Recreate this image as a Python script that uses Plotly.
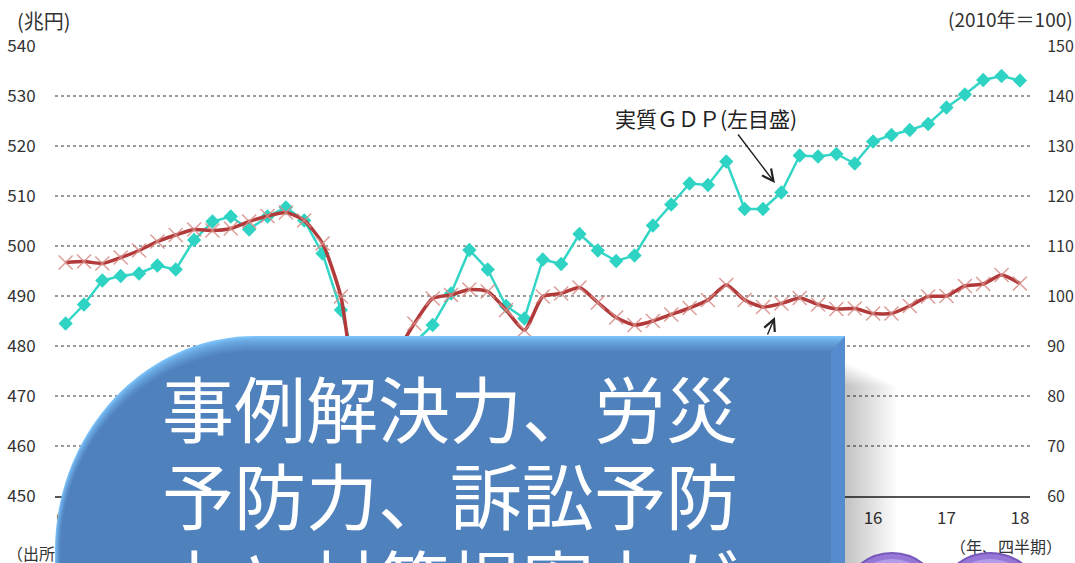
import plotly.graph_objects as go

# ---- data -------------------------------------------------------------
quarters = [
    "2005Q1", "2005Q2", "2005Q3", "2005Q4", "2006Q1", "2006Q2", "2006Q3", "2006Q4",
    "2007Q1", "2007Q2", "2007Q3", "2007Q4", "2008Q1", "2008Q2", "2008Q3", "2008Q4",
    "2009Q1", "2009Q2", "2009Q3", "2009Q4", "2010Q1", "2010Q2", "2010Q3", "2010Q4",
    "2011Q1", "2011Q2", "2011Q3", "2011Q4", "2012Q1", "2012Q2", "2012Q3", "2012Q4",
    "2013Q1", "2013Q2", "2013Q3", "2013Q4", "2014Q1", "2014Q2", "2014Q3", "2014Q4",
    "2015Q1", "2015Q2", "2015Q3", "2015Q4", "2016Q1", "2016Q2", "2016Q3", "2016Q4",
    "2017Q1", "2017Q2", "2017Q3", "2017Q4", "2018Q1",
]

# real GDP, trillion yen (left scale)
real_gdp = [
    484.5, 488.3, 493.1, 494.0, 494.5, 496.1, 495.3, 501.2,
    504.9, 505.9, 503.3, 505.9, 507.7, 505.1, 498.5, 487.2,
    474.0, 477.5, 477.0, 480.5, 484.2, 490.5, 499.2, 495.3,
    488.0, 485.5, 497.3, 496.4, 502.4, 499.1, 497.0, 498.1,
    504.1, 508.3, 512.5, 512.2, 516.9, 507.4, 507.4, 510.7,
    518.1, 517.9, 518.4, 516.5, 520.9, 522.2, 523.2, 524.4,
    527.7, 530.3, 533.2, 534.0, 533.1,
]

# production index, 2010 = 100 (right scale)
production = [
    106.7, 106.9, 106.5, 107.7, 109.1, 110.9, 112.2, 113.3,
    113.1, 113.5, 114.9, 116.0, 116.7, 115.1, 110.5, 99.9,
    79.0, 83.5, 88.5, 94.5, 99.5, 100.2, 101.3, 100.9,
    97.2, 93.2, 99.9, 100.5, 101.7, 98.7, 95.7, 94.2,
    95.0, 96.3, 97.6, 99.2, 102.2, 99.2, 97.8, 98.5,
    99.6, 98.3, 97.4, 97.5, 96.5, 96.5, 98.0, 99.9,
    100.0, 102.0, 102.4, 104.2, 102.5,
]

year_tick_pos = ["2005Q1", "2006Q1", "2007Q1", "2008Q1", "2009Q1", "2010Q1", "2011Q1",
                 "2012Q1", "2013Q1", "2014Q1", "2015Q1", "2016Q1", "2017Q1", "2018Q1"]
year_tick_text = ["05", "06", "07", "08", "09", "10", "11",
                  "12", "13", "14", "15", "16", "17", "18"]

left_ticks = [450, 460, 470, 480, 490, 500, 510, 520, 530, 540]
right_ticks = [60, 70, 80, 90, 100, 110, 120, 130, 140, 150]

headline = ["事例解決力、労災", "予防力、訴訟予防", "力と対策提案力が"]

# ---- page geometry (pixels) -------------------------------------------
W, H = 1075, 563
PL, PR, PT, PB = 55, 1030, 46, 496
X_RANGE = [-0.58, 52.55]


def fx(x):
    return x / W


def fy(y):
    return 1 - y / H


NUM_FONT = "Liberation Sans Narrow, Arial Narrow, Noto Sans CJK JP, sans-serif"
JP_FONT = "Noto Sans CJK JP, sans-serif"
INK = "#333333"

fig = go.Figure()

fig.add_trace(go.Scatter(
    x=quarters, y=real_gdp, name="実質ＧＤＰ",
    mode="lines+markers",
    line=dict(color="#33D6C6", width=2.5),
    marker=dict(symbol="diamond", size=11, color="#2ED3C3"),
    xaxis="x", yaxis="y",
))

fig.add_trace(go.Scatter(
    x=quarters, y=production, name="生産指数",
    mode="lines+markers",
    line=dict(color="#B23A3A", width=3.5, shape="spline", smoothing=0.6),
    marker=dict(symbol="x-thin", size=14,
                line=dict(color="rgba(215,140,135,0.85)", width=1.5)),
    xaxis="x", yaxis="y2",
))

# footnote texts on a full-page helper subplot (they sit under the panel / badges)
fig.add_trace(go.Scatter(
    x=[7], y=[556], mode="text", xaxis="x3", yaxis="y3",
    text=["（出所）内閣府「国民経済計算」、経済産業省「鉱工業指数」"],
    textposition="middle right",
    textfont=dict(family=JP_FONT, size=16, color=INK),
    cliponaxis=False, showlegend=False, hoverinfo="skip",
))
fig.add_trace(go.Scatter(
    x=[1006], y=[549], mode="text", xaxis="x3", yaxis="y3",
    text=["（年、四半期）"],
    textposition="middle center",
    textfont=dict(family=JP_FONT, size=16, color=INK),
    cliponaxis=False, showlegend=False, hoverinfo="skip",
))

# ---- overlay panel ------------------------------------------------------
shapes = []

# soft drop shadow to the right of the panel
for k in range(22):
    shapes.append(dict(
        type="rect", xref="paper", yref="paper", layer="above",
        x0=fx(700), x1=fx(842 + 2.6 * k),
        y0=fy(640), y1=fy(360 + 1.2 * k),
        fillcolor="rgba(0,0,0,0.013)", line=dict(width=0),
    ))


def panel_path(left, top, right, bottom, rx, ry):
    k = 0.5523
    cx, cy = left + rx, top + ry
    return (
        f"M{fx(left)},{fy(bottom)} "
        f"L{fx(left)},{fy(cy)} "
        f"C{fx(left)},{fy(cy - k * ry)} {fx(cx - k * rx)},{fy(top)} {fx(cx)},{fy(top)} "
        f"L{fx(right)},{fy(top)} "
        f"L{fx(right)},{fy(bottom)} Z"
    )


light = (125, 195, 250)
base = (79, 129, 189)
n_layers = 10
for i in range(n_layers):
    t = (i / (n_layers - 1)) ** 0.7
    col = tuple(round(light[j] * (1 - t) + base[j] * t) for j in range(3))
    shapes.append(dict(
        type="path", xref="paper", yref="paper", layer="above",
        path=panel_path(55 + 0.6 * i, 336 + 1.7 * i, 845, 640,
                        200 - 0.6 * i, 215 - 1.7 * i),
        fillcolor=f"rgb{col}", line=dict(width=0),
    ))

# right-hand bevel of the panel
shapes.append(dict(
    type="path", xref="paper", yref="paper", layer="above",
    path=(f"M{fx(845)},{fy(336)} L{fx(845)},{fy(640)} "
          f"L{fx(831)},{fy(640)} L{fx(831)},{fy(352)} Z"),
    fillcolor="rgb(86,139,206)", line=dict(width=0),
))

# purple badges at the bottom right
for cx, cy, r in [(892, 603, 50), (990, 607, 54)]:
    shapes.append(dict(
        type="circle", xref="paper", yref="paper", layer="above",
        x0=fx(cx - r), x1=fx(cx + r), y0=fy(cy + r), y1=fy(cy - r),
        fillcolor="rgb(150,118,214)", line=dict(color="rgb(118,88,186)", width=2),
    ))
    ri = r - 6
    shapes.append(dict(
        type="circle", xref="paper", yref="paper", layer="above",
        x0=fx(cx - ri), x1=fx(cx + ri), y0=fy(cy + ri), y1=fy(cy - ri),
        fillcolor="rgb(178,156,234)", line=dict(width=0),
    ))

# page-pixel annotations live on the helper axes so they never push the margins
annotations = [
    dict(text="(兆円)", xref="x3", yref="y3", x=15, y=20,
         xanchor="left", yanchor="middle", showarrow=False,
         font=dict(family=JP_FONT, size=20, color=INK)),
    dict(text="(2010年＝100)", xref="x3", yref="y3", x=1075, y=18,
         xanchor="right", yanchor="middle", showarrow=False,
         font=dict(family=JP_FONT, size=19, color=INK)),
    dict(text="実質ＧＤＰ(左目盛)", xref="x3", yref="y3", x=706, y=118,
         xanchor="center", yanchor="middle", showarrow=False,
         font=dict(family=JP_FONT, size=21, color="#222222")),
    # arrow to the GDP line
    dict(text="", x=38.65, y=512.6, xref="x", yref="y",
         ax=-38, ay=-50, axref="pixel", ayref="pixel",
         showarrow=True, arrowhead=5, arrowsize=1.6, arrowwidth=1.4,
         arrowcolor="#222222"),
    # arrow to the production line
    dict(text="", x=38.65, y=485.8, xref="x", yref="y",
         ax=-8, ay=19, axref="pixel", ayref="pixel",
         showarrow=True, arrowhead=5, arrowsize=1.6, arrowwidth=1.4,
         arrowcolor="#222222"),
]

# headline on the panel, one annotation per line for tight leading
for n, line_text in enumerate(headline):
    annotations.append(dict(
        text=line_text, xref="x3", yref="y3",
        x=160, y=351 + 87 * n, xanchor="left", yanchor="top", align="left",
        showarrow=False,
        font=dict(family=JP_FONT, size=72, color="white"),
    ))

fig.update_layout(
    width=W, height=H,
    margin=dict(l=0, r=0, t=0, b=0),
    paper_bgcolor="white", plot_bgcolor="rgba(0,0,0,0)",
    showlegend=False,
    xaxis=dict(
        domain=[PL / W, PR / W], anchor="y",
        type="category", categoryorder="array", categoryarray=quarters,
        range=X_RANGE,
        tickmode="array", tickvals=year_tick_pos, ticktext=year_tick_text,
        ticks="outside", ticklen=6, tickcolor="rgba(0,0,0,0)",
        tickfont=dict(family=NUM_FONT, size=17, color=INK),
        showgrid=False, showline=True, linecolor="#555555", linewidth=2,
        zeroline=False, automargin=False,
    ),
    yaxis=dict(
        domain=[1 - PB / H, 1 - PT / H], anchor="x",
        range=[450, 540], tickmode="array", tickvals=left_ticks,
        ticks="outside", ticklen=15, tickcolor="rgba(0,0,0,0)",
        tickfont=dict(family=NUM_FONT, size=17, color=INK),
        showgrid=True, gridcolor="#9a9a9a", gridwidth=1.5, griddash="dot",
        zeroline=False, showline=False, automargin=False,
    ),
    yaxis2=dict(
        range=[60, 150], tickmode="array", tickvals=right_ticks,
        overlaying="y", side="right", anchor="x",
        ticks="outside", ticklen=13, tickcolor="rgba(0,0,0,0)",
        tickfont=dict(family=NUM_FONT, size=16, color=INK),
        showgrid=False, zeroline=False, showline=False, automargin=False,
    ),
    xaxis3=dict(domain=[0, 1], range=[0, W], anchor="y3", visible=False,
                showgrid=False, zeroline=False, fixedrange=True, automargin=False),
    yaxis3=dict(domain=[0, 1], range=[H, 0], anchor="x3", visible=False,
                showgrid=False, zeroline=False, fixedrange=True, automargin=False),
    shapes=shapes,
    annotations=annotations,
)

fig.write_html("out.html")
